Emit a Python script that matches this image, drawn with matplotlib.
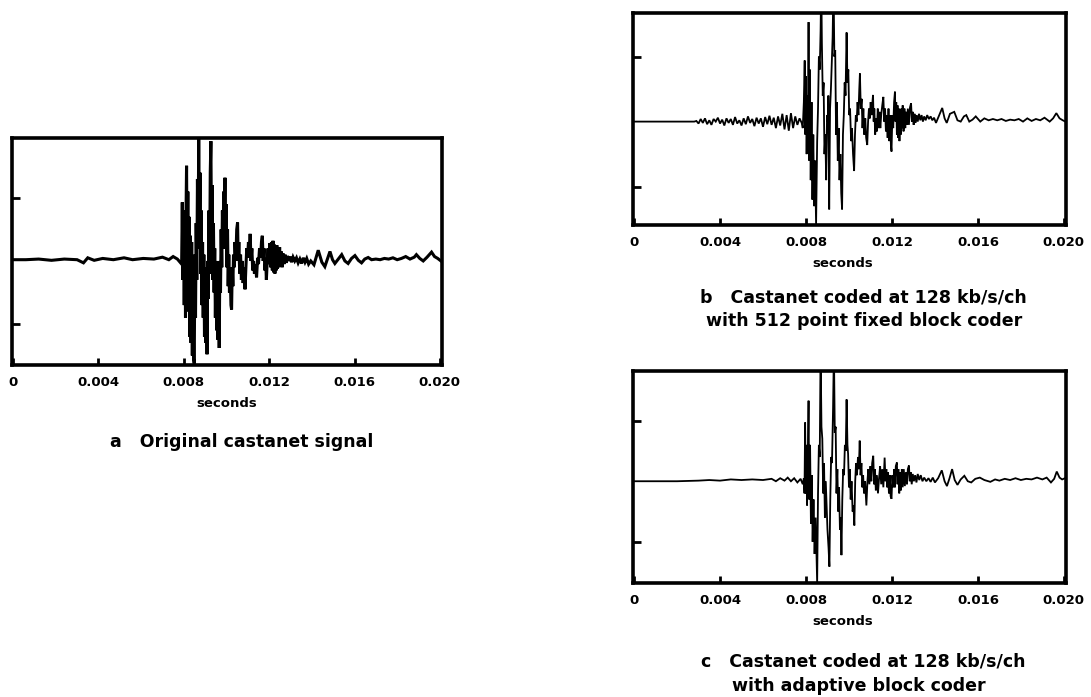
import numpy as np
import matplotlib
matplotlib.use("Agg")
from matplotlib import pyplot as plt

# time in ms, amplitude in units of the y tick spacing (ticks at +/-1)
t_a = [0.0, 0.6, 1.2, 1.8, 2.4, 3.0, 3.3, 3.5, 3.8, 4.2, 4.7, 5.2, 5.6, 6.1, 6.6, 7.0, 7.3, 7.5, 7.7, 7.9,
       7.93, 7.96, 7.99, 8.02, 8.05, 8.08, 8.11, 8.13, 8.16, 8.19, 8.22, 8.25, 8.28, 8.31, 8.34, 8.37, 8.40, 8.43, 8.46, 8.49,
       8.52, 8.55, 8.58, 8.61, 8.64, 8.67, 8.70, 8.73, 8.76, 8.79, 8.82, 8.85, 8.88, 8.91, 8.94, 8.97, 9.00, 9.03, 9.06, 9.09,
       9.12, 9.15, 9.18, 9.21, 9.24, 9.27, 9.30, 9.33, 9.36, 9.39, 9.42, 9.45, 9.48, 9.51, 9.54, 9.57, 9.60, 9.63, 9.66, 9.69,
       9.72, 9.75, 9.78, 9.81, 9.84, 9.87, 9.90, 9.93, 9.96, 9.99, 10.02, 10.05, 10.08, 10.11, 10.14, 10.17, 10.21, 10.24, 10.27, 10.30,
       10.33, 10.37, 10.40, 10.44, 10.48, 10.52, 10.55, 10.58, 10.62, 10.66, 10.70, 10.74, 10.78, 10.83, 10.87, 10.91, 10.95, 10.99, 11.03, 11.07,
       11.11, 11.15, 11.19, 11.23, 11.27, 11.31, 11.36, 11.41, 11.46, 11.50, 11.55, 11.60, 11.64, 11.68, 11.72, 11.76, 11.80, 11.84, 11.87, 11.91,
       11.95, 11.99, 12.03, 12.07, 12.11, 12.15, 12.18, 12.21, 12.24, 12.27, 12.30, 12.33, 12.36, 12.39, 12.42, 12.45, 12.49, 12.53, 12.57, 12.61,
       12.65, 12.70, 12.75, 12.80, 12.86, 12.92, 12.98, 13.05, 13.12, 13.20, 13.28, 13.36, 13.44, 13.52, 13.60, 13.68, 13.76, 13.85, 13.95,
       14.10, 14.30, 14.47, 14.61, 14.75, 14.85, 14.97, 15.08, 15.24, 15.40, 15.55, 15.70, 15.86, 16.02, 16.18, 16.33, 16.48, 16.64,
       16.8, 17.0, 17.2, 17.4, 17.6, 17.8, 18.0, 18.2, 18.4, 18.6, 18.8, 18.9, 19.06, 19.22, 19.40, 19.61, 19.75, 19.90, 20.05]
y_a = [0.02, 0.02, 0.03, 0.01, 0.03, 0.02, -0.03, 0.05, 0.01, 0.04, 0.02, 0.05, 0.02, 0.04, 0.03, 0.06, 0.02, 0.07, 0.03, -0.05,
       0.93, -0.3, 0.8, -0.7, 0.6, -0.9, 0.9, 1.51, -0.2, 1.1, -0.8, 0.7, -1.2, 0.4, -1.3, 0.3, -1.5, -0.1, -1.55, -1.63,
       0.1, -0.9, 0.6, -0.3, 1.3, 0.2, 2.0, 0.3, 1.4, -0.2, 0.8, -0.7, 0.3, -0.9, 0.1, -1.2, -0.1, -1.3, -0.3, -1.48,
       0.0, -0.6, 0.8, -0.2, 1.4, 1.9, 0.3, 1.2, -0.3, 0.6, -0.5, 0.2, -0.9, 0.0, -1.1, -0.2, -1.25, -0.4, -1.38, 0.0,
       -0.5, 0.5, -0.1, 0.8, 0.2, 1.1, 0.5, 1.32, 0.2, 0.9, -0.1, 0.5, -0.4, 0.1, -0.5, -0.1, -0.7, -0.77, -0.1, -0.4,
       0.1, -0.1, 0.3, 0.0, 0.5, 0.61, 0.0, 0.3, -0.2, 0.1, -0.3, 0.0, -0.35, -0.1, -0.45, -0.1, 0.2, 0.05, 0.3, 0.1,
       0.43, 0.0, 0.2, -0.15, 0.0, -0.2, -0.05, -0.26, 0.05, -0.05, 0.2, 0.05, 0.3, 0.40, 0.0, 0.2, -0.15, 0.0, -0.30, 0.0,
       0.2, -0.05, 0.28, -0.1, 0.3, -0.15, 0.32, -0.18, 0.26, -0.2, 0.22, -0.15, 0.25, -0.12, 0.2, -0.1, 0.22, -0.08, 0.15, -0.1,
       0.12, -0.05, 0.1, -0.03, 0.08, 0.0, 0.07, -0.02, 0.06, 0.0, 0.05, -0.03, 0.03, -0.04, 0.05, -0.02, 0.04, -0.05, 0.0,
       -0.06, 0.17, -0.02, -0.09, 0.05, 0.15, 0.02, -0.04, 0.03, 0.1, 0.0, -0.04, 0.04, 0.085, 0.01, -0.03, 0.03, 0.055,
       0.02, 0.03, 0.02, 0.04, 0.03, 0.05, 0.02, 0.04, 0.07, 0.03, 0.06, 0.1, 0.04, 0.0, 0.06, 0.14, 0.07, 0.04, 0.0]

t_b = [0.0, 1.0, 2.0, 2.8,
       2.9, 3.0, 3.1, 3.2, 3.3, 3.4, 3.5, 3.6, 3.7, 3.8, 3.9, 4.0, 4.1, 4.2, 4.3, 4.4, 4.5, 4.6, 4.7, 4.8, 4.9,
       5.0, 5.1, 5.2, 5.3, 5.4, 5.5, 5.6, 5.7, 5.8, 5.9, 6.0, 6.1, 6.2, 6.3, 6.4, 6.5, 6.6, 6.7, 6.8, 6.9,
       7.0, 7.1, 7.2, 7.3, 7.4, 7.5, 7.6, 7.7, 7.8,
       7.85, 7.90, 7.94, 7.97, 8.00, 8.03, 8.06, 8.09, 8.12, 8.15, 8.18, 8.22, 8.26, 8.30, 8.34, 8.38, 8.42, 8.47, 8.52, 8.56,
       8.60, 8.64, 8.68, 8.71, 8.74, 8.78, 8.82, 8.86, 8.90, 8.94, 8.98, 9.01, 9.04, 9.08, 9.12, 9.16, 9.20, 9.24, 9.28, 9.32,
       9.36, 9.40, 9.44, 9.48, 9.52, 9.56, 9.60, 9.64, 9.68, 9.72, 9.76, 9.80, 9.84, 9.89, 9.93, 9.97, 10.01, 10.05, 10.10, 10.14,
       10.19, 10.24, 10.28, 10.32, 10.36, 10.40, 10.44, 10.48, 10.51, 10.55, 10.59, 10.63, 10.67, 10.71, 10.76, 10.80, 10.85, 10.89, 10.93, 10.97,
       11.01, 11.05, 11.08, 11.12, 11.15, 11.18, 11.22, 11.26, 11.30, 11.34, 11.38, 11.42, 11.46, 11.50, 11.55, 11.60, 11.64, 11.68, 11.72, 11.76,
       11.80, 11.84, 11.88, 11.92, 11.95, 11.98, 12.02, 12.06, 12.10, 12.14, 12.17, 12.20, 12.23, 12.26, 12.29, 12.32, 12.35, 12.38, 12.41, 12.44,
       12.47, 12.50, 12.54, 12.58, 12.62, 12.66, 12.70, 12.74, 12.79, 12.84, 12.89, 12.93, 12.97, 13.01, 13.05, 13.10, 13.15, 13.20, 13.26, 13.32,
       13.38, 13.44, 13.50, 13.57, 13.64, 13.72, 13.80, 13.88, 13.96,
       14.05, 14.20, 14.34, 14.45, 14.55, 14.70, 14.90, 15.05, 15.20, 15.35, 15.46, 15.60, 15.75, 15.90, 16.11, 16.30, 16.5, 16.7, 16.9, 17.1,
       17.3, 17.5, 17.7, 17.9, 18.1, 18.3, 18.5, 18.7, 18.9, 19.1, 19.34, 19.50, 19.65, 19.80, 19.95, 20.07]
y_b = [0.0, 0.0, 0.0, 0.0,
       0.01, -0.03, 0.04, -0.02, 0.05, -0.04, 0.02, -0.05, 0.04, 0.0, 0.06, -0.03, 0.03, -0.06, 0.05, -0.02, 0.04, -0.05, 0.07, -0.03, 0.02,
       -0.06, 0.05, -0.04, 0.08, -0.02, 0.04, -0.07, 0.06, -0.03, 0.05, -0.08, 0.07, -0.04, 0.09, -0.05, 0.06, -0.1, 0.08, -0.06, 0.12,
       -0.12, 0.1, -0.14, 0.13, -0.1, 0.08, -0.05, 0.05, -0.02,
       -0.1, 0.3, 0.94, -0.2, 0.7, -0.5, 0.4, -0.3, 1.53, -0.6, 0.8, -0.9, 0.3, -1.2, -0.2, -1.3, -0.6, -1.58, -0.3, 0.2,
       1.0, 0.8, 1.4, 2.2, 1.2, 0.4, 0.6, -0.5, -0.2, -0.9, 0.1, 0.0, 0.4, -1.35, 0.2, 0.5, 0.9, 1.3, 2.2, 1.0,
       1.1, -0.2, 0.3, -0.6, -0.1, -0.9, -0.5, -1.1, -1.35, -0.2, 0.1, 0.6, 0.4, 1.37, 0.6, 0.8, 0.1, 0.2, -0.3, -0.1,
       -0.5, -0.76, -0.2, 0.1, 0.0, 0.3, 0.1, 0.5, 0.74, 0.2, 0.35, -0.1, 0.2, -0.2, 0.05, -0.25, -0.36, 0.0, 0.2, 0.05,
       0.3, 0.1, 0.25, 0.41, 0.0, 0.2, -0.2, 0.05, -0.15, 0.2, -0.1, 0.15, -0.1, 0.1, 0.25, 0.38, 0.0, 0.2, -0.15, 0.1,
       -0.25, 0.2, -0.3, 0.1, -0.35, -0.46, 0.1, -0.1, 0.3, 0.46, 0.0, 0.3, -0.2, 0.25, -0.25, 0.2, -0.3, 0.15, -0.2, 0.2,
       -0.1, 0.25, -0.15, 0.2, -0.1, 0.15, -0.05, 0.2, -0.05, 0.22, 0.28, 0.0, 0.15, -0.05, 0.12, -0.02, 0.1, 0.0, 0.12, 0.02,
       0.1, 0.0, 0.08, 0.02, 0.1, 0.04, 0.08, 0.02, 0.06,
       -0.02, 0.1, 0.21, 0.05, -0.02, 0.12, 0.15, 0.02, 0.0, 0.08, 0.1, 0.0, 0.03, 0.08, 0.0, 0.05, 0.02, 0.04, 0.02, 0.04,
       0.01, 0.03, 0.02, 0.04, 0.0, 0.05, 0.01, 0.04, 0.02, 0.06, 0.0, 0.05, 0.13, 0.05, 0.02, 0.0]

t_c = [0.0, 1.0, 2.0, 3.0, 3.5, 4.0, 4.5, 5.0, 5.5, 6.0, 6.4, 6.6, 6.8, 7.0, 7.15, 7.3, 7.45, 7.6, 7.75, 7.85,
       7.90, 7.93, 7.96, 7.99, 8.02, 8.05, 8.09, 8.12, 8.15, 8.19, 8.23, 8.27, 8.31, 8.35, 8.40, 8.45, 8.52, 8.56, 8.60, 8.64,
       8.68, 8.72, 8.76, 8.80, 8.84, 8.88, 8.92, 8.96, 9.00, 9.05, 9.09, 9.13, 9.17, 9.21, 9.26, 9.30, 9.34, 9.38, 9.42, 9.46,
       9.50, 9.54, 9.58, 9.62, 9.65, 9.69, 9.73, 9.77, 9.81, 9.85, 9.89, 9.93, 9.96, 10.00, 10.04, 10.08, 10.12, 10.17, 10.21, 10.25,
       10.29, 10.33, 10.37, 10.42, 10.46, 10.50, 10.54, 10.58, 10.62, 10.66, 10.70, 10.75, 10.81, 10.86, 10.90, 10.95, 11.00, 11.04, 11.08, 11.13,
       11.17, 11.21, 11.25, 11.30, 11.35, 11.40, 11.45, 11.50, 11.55, 11.60, 11.66, 11.70, 11.74, 11.78, 11.82, 11.86, 11.90, 11.94, 11.98, 12.02,
       12.06, 12.10, 12.14, 12.18, 12.23, 12.26, 12.30, 12.34, 12.38, 12.42, 12.46, 12.50, 12.55, 12.60, 12.65, 12.70, 12.74, 12.79, 12.83, 12.87,
       12.92, 12.97, 13.02, 13.08, 13.14, 13.20, 13.27, 13.34, 13.42, 13.50, 13.60, 13.70, 13.80, 13.90, 14.00,
       14.15, 14.32, 14.45, 14.56, 14.68, 14.80, 14.92, 15.05, 15.20, 15.37, 15.53, 15.69, 15.88, 16.09, 16.30, 16.58, 16.80, 17.0, 17.25, 17.5,
       17.75, 18.0, 18.25, 18.5, 18.75, 19.0, 19.2, 19.4, 19.55, 19.67, 19.80, 19.92, 20.05]
y_c = [0.0, 0.0, 0.0, 0.01, 0.02, 0.01, 0.03, 0.02, 0.03, 0.02, 0.04, 0.0, 0.05, 0.01, 0.06, 0.0, 0.05, -0.02, 0.04, -0.05,
       0.05, -0.2, 0.97, -0.2, 0.6, -0.4, 0.5, 1.33, -0.3, 0.6, -0.7, 0.1, -1.0, -0.3, -1.2, -0.6, -1.68, -0.2, 0.6, 0.4,
       2.2, 0.9, 0.7, -0.2, 0.3, -0.6, 0.0, -0.4, -0.8, -1.1, -1.41, -0.3, 0.4, 0.3, 1.2, 2.2, 0.8, 0.9, -0.2, 0.2,
       -0.5, -0.1, -0.8, -0.6, -1.22, -0.3, 0.2, 0.1, 0.6, 0.5, 1.35, 0.6, 0.45, -0.1, 0.2, -0.3, 0.0, -0.5, -0.4, -0.73,
       0.0, 0.3, 0.1, 0.4, 0.2, 0.67, 0.1, 0.3, -0.1, 0.1, -0.2, 0.0, -0.4, 0.0, 0.2, -0.05, 0.25, 0.0, 0.3, 0.42,
       -0.05, 0.2, -0.15, 0.1, -0.2, 0.05, 0.25, -0.05, 0.2, -0.1, 0.39, 0.0, 0.2, -0.1, 0.15, -0.2, 0.1, -0.25, -0.29, 0.1,
       -0.1, 0.2, -0.1, 0.25, 0.31, -0.05, 0.2, -0.2, 0.15, -0.15, 0.2, -0.1, 0.2, -0.08, 0.15, -0.05, 0.2, 0.26, 0.0, 0.15,
       -0.05, 0.12, 0.0, 0.1, -0.02, 0.12, 0.02, 0.1, 0.0, 0.06, 0.0, 0.05, -0.01, 0.06, -0.02,
       0.05, 0.18, 0.0, -0.08, 0.05, 0.2, 0.02, -0.06, 0.03, 0.09, 0.0, -0.02, 0.04, 0.06, 0.02, -0.01, 0.03, 0.01, 0.04, 0.02,
       0.05, 0.02, 0.04, 0.03, 0.06, 0.03, 0.06, -0.02, 0.04, 0.16, 0.06, 0.03, 0.05]

tick_pos = [0.0, 0.004, 0.008, 0.012, 0.016, 0.020]
tick_labels = ["0", "0.004", "0.008", "0.012", "0.016", "0.020"]

W, H = 1091, 697
fig = plt.figure(figsize=(W / 100, H / 100), dpi=100)
fig.patch.set_facecolor("white")

FONT = "DejaVu Sans"


def make_panel(rect_px, t_ms, y, ylim, lw, label_x=0.5):
    left, top, right, bottom = rect_px
    ax = fig.add_axes([left / W, 1 - bottom / H, (right - left) / W, (bottom - top) / H])
    ax.plot(np.array(t_ms) / 1000.0, y, color="black", lw=lw, solid_joinstyle="miter")
    ax.set_xlim(-0.00005, 0.0201)
    ax.set_ylim(*ylim)
    for s in ax.spines.values():
        s.set_linewidth(2.6)
    ax.set_yticks([-1, 1])
    ax.set_yticklabels([])
    ax.set_xticks(tick_pos)
    ax.set_xticklabels(tick_labels, fontfamily=FONT, fontweight="bold", fontsize=9.5)
    ax.tick_params(axis="y", direction="in", length=6, width=2)
    ax.tick_params(axis="x", direction="in", length=5, width=2, pad=8)
    ax.set_xlabel("seconds", fontfamily=FONT, fontweight="bold", fontsize=9.5, labelpad=6)
    ax.xaxis.label.set_x(label_x)
    return ax


make_panel((12, 138, 442, 365), t_a, y_a, (-1.65, 1.95), 2.2)
make_panel((633, 13, 1066, 225), t_b, y_b, (-1.59, 1.67), 1.3, label_x=0.484)
make_panel((633, 371, 1066, 583), t_c, y_c, (-1.68, 1.82), 1.3, label_x=0.484)

cap = dict(fontfamily=FONT, fontweight="bold", fontsize=12.5, ha="left", va="center")
fig.text(110 / W, 1 - 442 / H, "a   Original castanet signal", **cap)
fig.text(700 / W, 1 - 298 / H, "b   Castanet coded at 128 kb/s/ch", **cap)
fig.text(706 / W, 1 - 321 / H, "with 512 point fixed block coder", **cap)
fig.text(701 / W, 1 - 662 / H, "c   Castanet coded at 128 kb/s/ch", **cap)
fig.text(732 / W, 1 - 686 / H, "with adaptive block coder", **cap)

fig.savefig("out.png", dpi=100, facecolor="white")
